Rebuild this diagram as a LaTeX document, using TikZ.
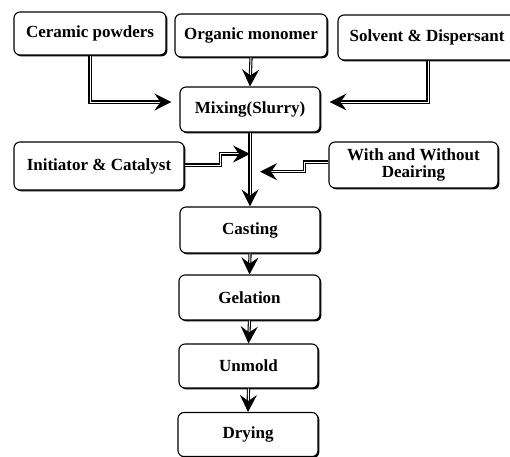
\documentclass[tikz,border=0pt]{standalone}
\usepackage{fontspec}
\setmainfont{Liberation Serif}
\usetikzlibrary{arrows.meta,shadows}

\begin{document}
\begin{tikzpicture}[x=1pt, y=-1pt,
    box/.style={draw, line width=1.1pt, rounded corners=6pt, fill=white,
        inner sep=0pt, align=center, font=\fontsize{17}{19}\selectfont\bfseries,
        drop shadow={shadow xshift=1.4pt, shadow yshift=-1.4pt, fill=black, opacity=1}},
    flow/.style={double, double distance=1pt, line width=1.1pt,
        -{Stealth[length=17pt, width=17pt, inset=6pt]}}]
    \useasboundingbox (0,0) rectangle (510,456);
    % Materias-primas
    \node[box, minimum width=152pt, minimum height=43pt] (cer) at (90,33.5) {Ceramic powders};
    \node[box, minimum width=152pt, minimum height=43pt] (org) at (251,35.5) {Organic monomer};
    \node[box, minimum width=178pt, minimum height=45pt] (sol) at (427,37.5) {Solvent \& Dispersant};
    % Etapas do processo
    \node[box, minimum width=140pt, minimum height=45pt] (mix) at (250,109.5) {Mixing(Slurry)};
    \node[box, minimum width=170pt, minimum height=48pt] (ini) at (99,166) {Initiator \& Catalyst};
    \node[box, minimum width=169pt, minimum height=46pt] (dea) at (413.5,165) {With and Without\\[-2pt]Deairing};
    \node[box, minimum width=140pt, minimum height=46pt] (cas) at (250,230) {Casting};
    \node[box, minimum width=141pt, minimum height=45pt] (gel) at (249.5,297.5) {Gelation};
    \node[box, minimum width=139pt, minimum height=44pt] (unm) at (248.5,366) {Unmold};
    \node[box, minimum width=140pt, minimum height=44pt] (dry) at (248,434.5) {Drying};
    % Pontos de entrada na linha principal
    \path (mix.south) -- (cas.north) coordinate[pos=0.29] (j1) coordinate[pos=0.53] (j2);
    % Conexoes
    \draw[flow] (cer.south) |- ([xshift=-8pt, yshift=7.5pt]mix.west);
    \draw[flow] (org.south) -- (mix.north);
    \draw[flow] ([xshift=1pt]sol.south) |- ([xshift=9pt, yshift=7.5pt]mix.east);
    \draw[flow] (mix.south) -- (cas.north);
    \draw[flow] ([yshift=1pt]ini.east) -- ++(36,0) |- (j1);
    \draw[flow] ([yshift=3pt]dea.west) -- ++(-24,0) |- ([xshift=10pt]j2);
    \draw[flow] (cas.south) -- (gel.north);
    \draw[flow] (gel.south) -- (unm.north);
    \draw[flow] (unm.south) -- (dry.north);
\end{tikzpicture}
\end{document}
